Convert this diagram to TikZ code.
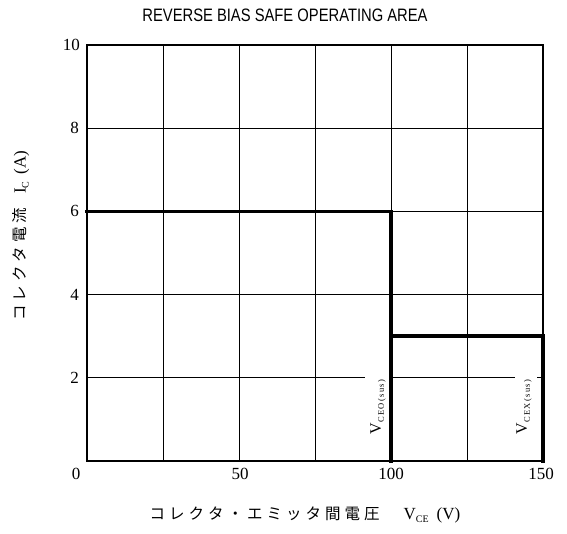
\documentclass[tikz,border=0pt]{standalone}
\usepackage{fontspec}
\usepackage{graphicx}
\setmainfont{Liberation Serif}
\newfontfamily\cjk{Noto Sans CJK JP}
\newfontfamily\ttlfont{Liberation Sans}
\newcommand\jsp{\hspace{4pt}}
\begin{document}
\begin{tikzpicture}[x=1pt,y=-1pt,
  frameline/.style={line width=2.2pt,line cap=rect},
  gridline/.style={line width=1pt},
  soaline/.style={line width=3.6pt,line cap=rect},
  ticklab/.style={font=\fontsize{17}{17}\selectfont,inner sep=0pt},
  sublab/.style={rotate=90,inner sep=0pt}]
\useasboundingbox (0,0) rectangle (567,534);
% title
\node[inner sep=0pt] (title) at (285,15) {\ttlfont\fontsize{18}{18}\selectfont\scalebox{0.82}[1]{REVERSE BIAS SAFE OPERATING AREA}};
% grid
\foreach \gx in {163,239,315,391,467} \draw[gridline] (\gx,45) -- (\gx,461);
\foreach \gy in {128.2,211.4,294.6} \draw[gridline] (87,\gy) -- (543,\gy);
\draw[gridline] (87,377.8) -- (365,377.8);
\draw[gridline] (391,377.8) -- (515,377.8);
\draw[gridline] (537,377.8) -- (543,377.8);
% frame
\draw[frameline] (87,45) rectangle (543,461);
% SOA boundary
\draw[soaline] (87,211.4) -- (391,211.4) -- (391,461);
\draw[soaline] (391,336.2) -- (543,336.2) -- (543,461);
% y ticks
\node[ticklab,anchor=east] (y10) at (80,45) {10};
\node[ticklab,anchor=east] (y8) at (79,128.2) {8};
\node[ticklab,anchor=east] (y6) at (79,211.4) {6};
\node[ticklab,anchor=east] (y4) at (79,294.6) {4};
\node[ticklab,anchor=east] (y2) at (79,377.8) {2};
\node[ticklab] (x0) at (76,474) {0};
% x ticks
\node[ticklab] (x50) at (240,474) {50};
\node[ticklab] (x100) at (391,474) {100};
\node[ticklab] (x150) at (541,474) {150};
% axis labels
\node[inner sep=0pt] (xlab) at (305,515) {{\cjk\fontsize{15.5}{15.5}\selectfont コ\jsp レ\jsp ク\jsp タ\jsp ・\jsp エ\jsp ミ\jsp ッ\jsp タ\jsp 間\jsp 電\jsp 圧}\hspace{24pt}{\fontsize{17}{17}\selectfont V\raisebox{-3pt}{\fontsize{10}{10}\selectfont CE}\hspace{8pt}(V)}};
\node[inner sep=0pt,rotate=90] (ylab) at (21,236) {{\cjk\fontsize{15.5}{15.5}\selectfont コ\jsp レ\jsp ク\jsp タ\jsp 電\jsp 流}\hspace{14pt}{\fontsize{17}{17}\selectfont I\raisebox{-3pt}{\fontsize{10}{10}\selectfont C}\hspace{7pt}(A)}};
% breakdown labels
\node[sublab] (vceo) at (378,407) {\fontsize{16}{16}\selectfont V\raisebox{-3pt}{\fontsize{8.5}{8.5}\selectfont C\,E\,O\,(\,s\,u\,s\,)}};
\node[sublab] (vcex) at (524,407) {\fontsize{16}{16}\selectfont V\raisebox{-3pt}{\fontsize{8.5}{8.5}\selectfont C\,E\,X\,(\,s\,u\,s\,)}};
\end{tikzpicture}
\end{document}
